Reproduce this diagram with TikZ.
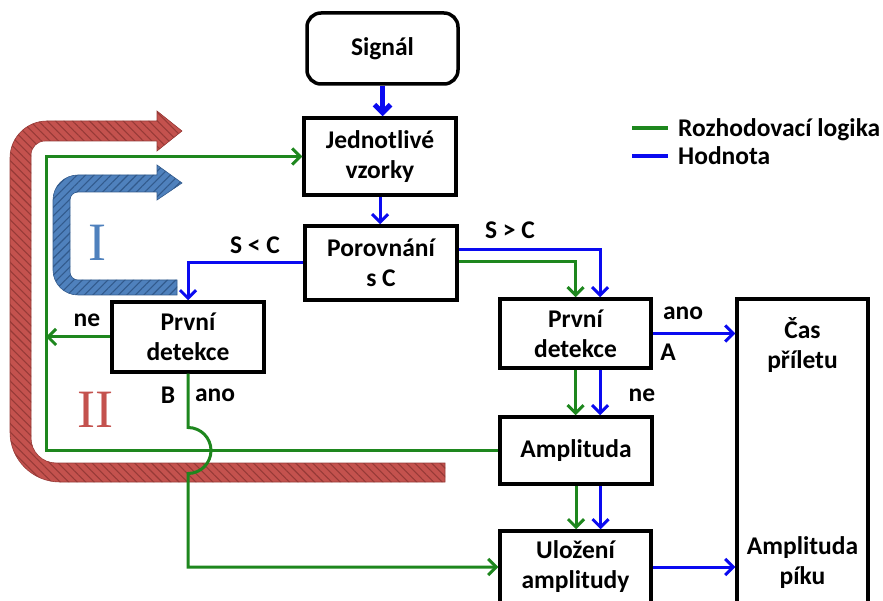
\documentclass[tikz,border=0pt]{standalone}
\usepackage{fontspec}
\setmainfont{Carlito}
\newfontfamily\romanI{Liberation Serif}
\usetikzlibrary{arrows.meta,patterns.meta}
\definecolor{gr}{RGB}{30,135,30}
\definecolor{bl}{RGB}{10,10,240}
\definecolor{redA}{RGB}{196,82,78}
\definecolor{redD}{RGB}{150,58,55}
\definecolor{bluA}{RGB}{79,129,189}
\definecolor{bluD}{RGB}{50,90,140}
\begin{document}
\begin{tikzpicture}[x=1pt,y=1pt,
  box/.style={draw=black,line width=3.5pt,fill=white,minimum width=152pt,align=center,
    font=\fontsize{25.5}{30}\selectfont\bfseries,inner sep=0pt},
  lbl/.style={font=\fontsize{25.5}{30}\selectfont\bfseries,inner sep=0pt,align=center},
  tipstyle/.style={-{Straight Barb[length=8pt,width=16pt]}},
  garr/.style={draw=gr,line width=3pt,tipstyle},
  barr/.style={draw=bl,line width=3pt,tipstyle},
  legline/.style={line width=3.5pt},
  redband/.style={fill=redA,draw=redD,line width=0.6pt,
    postaction={pattern={Lines[angle=-45,distance=6pt,line width=1.1pt]},pattern color=redD}},
  bluband/.style={fill=bluA,draw=bluD,line width=0.6pt,
    postaction={pattern={Lines[angle=45,distance=6pt,line width=1.1pt]},pattern color=bluD}},
  roman/.style={font=\romanI\fontsize{54}{54}\selectfont,inner sep=0pt}
]
\clip (0,0) rectangle (883,600);
\fill[white] (0,0) rectangle (883,600);

% big striped arrows
\path[redband] (445,118) -- (60,118) arc[start angle=270,end angle=180,radius=50pt]
  -- (10,442) arc[start angle=180,end angle=90,radius=37pt]
  -- (157,479) -- (157,489) -- (182,469) -- (157,449) -- (157,459)
  -- (45,459) arc[start angle=90,end angle=180,radius=14pt]
  -- (31,162) arc[start angle=180,end angle=270,radius=25pt]
  -- (445,137) -- cycle;
\path[bluband] (177,305) -- (78,305) arc[start angle=270,end angle=180,radius=25pt]
  -- (53,400) arc[start angle=180,end angle=90,radius=25pt]
  -- (157,425) -- (157,435) -- (182,417) -- (157,400) -- (157,408)
  -- (78,408) arc[start angle=90,end angle=180,radius=8pt]
  -- (70,328) arc[start angle=180,end angle=270,radius=8pt]
  -- (177,320) -- cycle;
\node[roman,text=bluA] (r1) at (97,357) {I};
\node[roman,text=redA] (r2) at (95,190) {II};

% boxes
\node[box,rounded corners=14pt,minimum width=151pt,minimum height=71pt] (sig) at (382.5,551.5) {Signál};
\node[box,minimum height=77pt] (jed) at (380,443.5) {Jednotlivé\\vzorky};
\node[box,minimum height=74pt] (por) at (381,337) {Porovnání\\s C};
\node[box,minimum height=70pt] (pd1) at (188,263) {První\\detekce};
\node[box,minimum width=151pt,minimum height=69pt] (pd2) at (575.5,266.5) {První\\detekce};
\node[box,minimum height=67pt] (amp) at (576,149.5) {Amplituda};
\node[box,minimum width=151pt,minimum height=72pt] (ulo) at (575.5,33) {Uložení\\amplitudy};
\node[box,minimum width=131pt,minimum height=311pt] (out) at (802.5,145.5) {};
\node[lbl] (cas) at (802.5,255) {Čas\\příletu};
\node[lbl] (apik) at (802.5,37) {Amplituda\\píku};

% helper coordinates
\coordinate (lx) at (46,0);
\coordinate (pd2t) at ([xshift=24.5pt]pd2.north);
\coordinate (pd2b) at ([xshift=24.5pt]pd2.south);
\coordinate (ampb) at ([xshift=24.5pt]amp.south);
\coordinate (pors) at ([yshift=13pt]por.east);
\coordinate (hop) at (pd1.south |- amp.west);

% blue value connectors
\draw[barr,line width=5pt] (sig.south) -- (sig.south |- jed.north);
\draw[barr] (jed.south) -- (jed.south |- por.north);
\draw[barr] (por.west) -| (pd1.north);
\draw[barr] (pors) -| (pd2t);
\draw[barr] (pd2b) -- (pd2b |- amp.north);
\draw[barr] (ampb) -- (ampb |- ulo.north);
\draw[barr] (pd2.east) -- (pd2.east -| out.west);
\draw[barr] (ulo.east) -- (ulo.east -| out.west);

% green logic connectors
\draw[garr] ([yshift=1pt]por.east) -| (pd2.north);
\draw[garr] (pd2.south) -- (pd2.south |- amp.north);
\draw[garr] (amp.south) -- (amp.south |- ulo.north);
\draw[garr] (amp.west) -- (amp.west -| lx) |- (jed.west);
\draw[garr] (pd1.west) -- (pd1.west -| lx);
\draw[garr] (pd1.south) -- ([yshift=23pt]hop) arc[start angle=90,end angle=-90,radius=23pt] |- (ulo.west);

% labels
\node[lbl] (slc) at (255,355) {S < C};
\node[lbl] (sgc) at (510,370) {S > C};
\node[lbl] (ne1) at (87,280) {ne};
\node[lbl] (bb) at (168,205) {B};
\node[lbl] (ano1) at (215,205) {ano};
\node[lbl] (ano2) at (683,287) {ano};
\node[lbl] (aa) at (668,248) {A};
\node[lbl] (ne2) at (642,205) {ne};

% legend
\node[lbl,anchor=base west] (lg1) at (678,463) {Rozhodovací logika};
\node[lbl,anchor=base west] (lg2) at (678,435) {Hodnota};
\draw[legline,gr] (632,472) -- (668,472);
\draw[legline,bl] (632,444) -- (668,444);
\end{tikzpicture}
\end{document}
